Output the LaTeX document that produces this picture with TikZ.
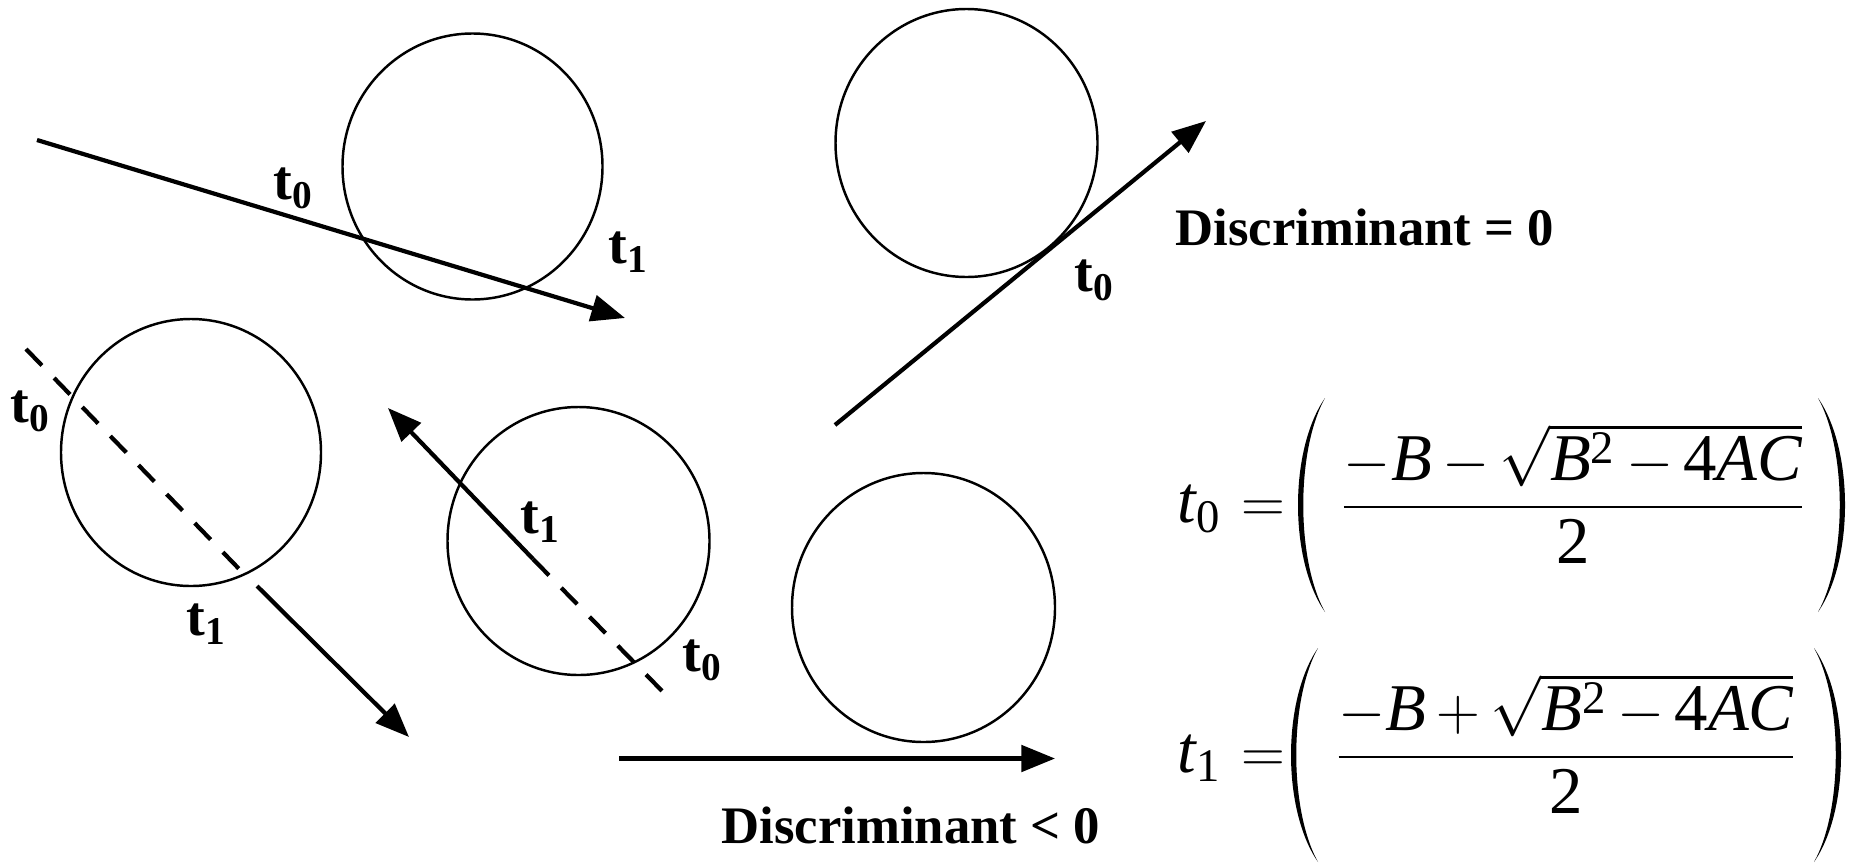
\documentclass[tikz,border=0pt]{standalone}
\usepackage{amsmath}
\usepackage{fontspec}
\setmainfont{Liberation Serif}
\usetikzlibrary{arrows.meta}

\begin{document}
\begin{tikzpicture}[scale=1.0,
  ball/.style={line width=0.7pt},
  ray/.style={line width=1.2pt,-{Triangle[length=9.6pt,width=7.5pt]}},
  hidden/.style={line width=1.2pt,dash pattern=on 6.5pt off 5pt},
  tlab/.style={font=\fontsize{16}{19}\selectfont\bfseries,inner sep=0pt},
  caption/.style={font=\fontsize{15}{18}\selectfont\bfseries,inner sep=0pt,anchor=base west},
  eqn/.style={font=\fontsize{19}{23}\selectfont,inner sep=0pt},
  bow/.pic={\fill (0,1.07) .. controls (-0.36,0.55) and (-0.36,-0.55) .. (0,-1.07)
    .. controls (-0.29,-0.55) and (-0.29,0.55) .. (0,1.07);}]
\useasboundingbox (0,0) rectangle (18.62,8.62);
\medmuskip=3mu

% two hits, ray starts outside
\draw[ball] (4.725,6.955) ellipse (1.3 and 1.33);
\draw[ray] (0.37,7.22) -- (6.25,5.44);
\node[tlab] (a0) at (2.94,6.74) {t\textsubscript{0}};
\node[tlab] (a1) at (6.29,6.10) {t\textsubscript{1}};

% both hits behind the ray
\draw[ball] (1.91,4.095) ellipse (1.3 and 1.335);
\draw[hidden] (0.26,5.13) -- (2.44,2.88);
\draw[ray] (2.57,2.76) -- (4.09,1.25);
\node[tlab] (b0) at (0.31,4.51) {t\textsubscript{0}};
\node[tlab] (b1) at (2.07,2.38) {t\textsubscript{1}};

% ray starts inside
\draw[ball] (5.785,3.21) ellipse (1.31 and 1.34);
\draw[ray] (5.33,3.03) -- (3.88,4.54);
\draw[hidden] (5.33,3.03) -- (6.66,1.67);
\node[tlab] (c1) at (5.41,3.40) {t\textsubscript{1}};
\node[tlab] (c0) at (7.03,2.02) {t\textsubscript{0}};

% tangent
\draw[ball] (9.665,7.19) ellipse (1.31 and 1.34);
\draw[ray] (8.35,4.37) -- (12.06,7.41);
\node[tlab] (d0) at (10.95,5.82) {t\textsubscript{0}};
\node[caption] (eq) at (11.75,6.17) {Discriminant = 0};

% miss
\draw[ball] (9.235,2.545) ellipse (1.315 and 1.345);
\draw[ray] (6.19,1.035) -- (10.55,1.035);
\node[caption] (lt) at (7.21,0.19) {Discriminant < 0};

% roots
\node[eqn,anchor=base west] (r0) at (11.77,3.40) {$\mathit{t}_{\mathrm{0}}\mkern1mu=$};
\node[eqn,anchor=base] (f0) at (15.73,3.40)
  {$\dfrac{-\mathit{B}-\sqrt{\mathit{B}^{\mathrm{2}}-\mathrm{4}\mathit{AC}}}{\mathrm{2}}$};
\pic at (13.25,3.57) {bow};
\pic[xscale=-1] at (18.18,3.57) {bow};

\node[eqn,anchor=base west] (r1) at (11.77,0.90) {$\mathit{t}_{\mathrm{1}}\mkern1mu=$};
\node[eqn,anchor=base] (f1) at (15.66,0.90)
  {$\dfrac{-\mathit{B}+\sqrt{\mathit{B}^{\mathrm{2}}-\mathrm{4}\mathit{AC}}}{\mathrm{2}}$};
\pic at (13.18,1.07) {bow};
\pic[xscale=-1] at (18.14,1.07) {bow};
\end{tikzpicture}
\end{document}
